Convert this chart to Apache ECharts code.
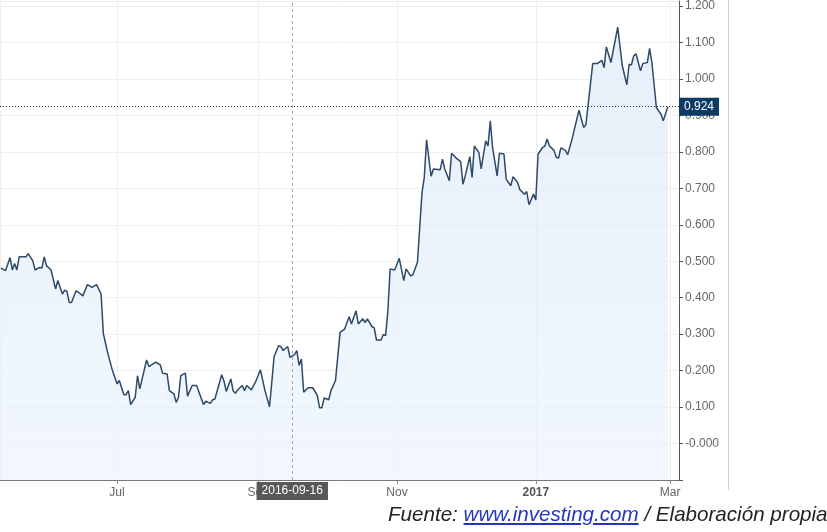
<!DOCTYPE html>
<html>
<head>
<meta charset="utf-8">
<script src="https://cdn.jsdelivr.net/npm/echarts@6/dist/echarts.min.js"></script>
<style>
  html, body { margin: 0; padding: 0; background: #fff; }
  #chart { width: 827px; height: 532px; position: absolute; left: 0; top: 0; }
  #src { position: absolute; left: 388px; top: 502px; font-family: "Liberation Sans", Arial, sans-serif;
         font-style: italic; font-size: 20.6px; color: #222; white-space: nowrap; }
  #src a { color: #2236c0; text-decoration: underline; }
</style>
</head>
<body>
<div id="chart"></div>
<div id="src">Fuente: <a>www.investing.com</a> / Elaboración propia</div>
<script>
const dates = [
  '2016-05-11','2016-05-13','2016-05-15','2016-05-16','2016-05-17','2016-05-18','2016-05-19','2016-05-22','2016-05-23','2016-05-25',
  '2016-05-26','2016-05-28','2016-05-29','2016-05-30','2016-05-31','2016-06-02','2016-06-04','2016-06-05','2016-06-07','2016-06-08',
  '2016-06-09','2016-06-10','2016-06-11','2016-06-13','2016-06-14','2016-06-16','2016-06-18','2016-06-20','2016-06-22','2016-06-24',
  '2016-06-25','2016-06-27','2016-06-29','2016-07-01','2016-07-02','2016-07-04','2016-07-05','2016-07-06','2016-07-07','2016-07-09',
  '2016-07-10','2016-07-11','2016-07-14','2016-07-15','2016-07-18','2016-07-20','2016-07-21','2016-07-23','2016-07-24','2016-07-26',
  '2016-07-27','2016-07-28','2016-07-29','2016-07-31','2016-08-01','2016-08-03','2016-08-05','2016-08-06','2016-08-08','2016-08-09',
  '2016-08-10','2016-08-11','2016-08-12','2016-08-13','2016-08-16','2016-08-17','2016-08-18','2016-08-20','2016-08-21','2016-08-22',
  '2016-08-23','2016-08-25','2016-08-26','2016-08-27','2016-08-29','2016-08-31','2016-09-02','2016-09-04','2016-09-06','2016-09-07',
  '2016-09-08','2016-09-10','2016-09-11','2016-09-12','2016-09-14','2016-09-15','2016-09-17','2016-09-18','2016-09-19','2016-09-20',
  '2016-09-21','2016-09-23','2016-09-25','2016-09-27','2016-09-28','2016-09-29','2016-09-30','2016-10-02','2016-10-03','2016-10-05',
  '2016-10-07','2016-10-09','2016-10-11','2016-10-12','2016-10-14','2016-10-15','2016-10-17','2016-10-18','2016-10-19','2016-10-21',
  '2016-10-22','2016-10-23','2016-10-25','2016-10-26','2016-10-27','2016-10-28','2016-10-29','2016-10-31','2016-11-02','2016-11-04',
  '2016-11-05','2016-11-07','2016-11-08','2016-11-10','2016-11-12','2016-11-13','2016-11-14','2016-11-16','2016-11-17','2016-11-20',
  '2016-11-21','2016-11-22','2016-11-24','2016-11-25','2016-11-27','2016-11-29','2016-11-30','2016-12-01','2016-12-03','2016-12-04',
  '2016-12-05','2016-12-07','2016-12-08','2016-12-10','2016-12-11','2016-12-12','2016-12-13','2016-12-15','2016-12-16','2016-12-18',
  '2016-12-19','2016-12-20','2016-12-21','2016-12-22','2016-12-24','2016-12-25','2016-12-27','2016-12-28','2016-12-29','2016-12-31',
  '2017-01-01','2017-01-02','2017-01-04','2017-01-05','2017-01-06','2017-01-07','2017-01-09','2017-01-10','2017-01-11','2017-01-12',
  '2017-01-14','2017-01-15','2017-01-17','2017-01-19','2017-01-20','2017-01-22','2017-01-23','2017-01-26','2017-01-28','2017-01-30',
  '2017-01-31','2017-02-01','2017-02-03','2017-02-06','2017-02-08','2017-02-10','2017-02-11','2017-02-12','2017-02-13','2017-02-14',
  '2017-02-16','2017-02-17','2017-02-19','2017-02-20','2017-02-21','2017-02-23','2017-02-25','2017-02-26','2017-02-28'
];
const values = [
  0.481,0.474,0.510,0.476,0.494,0.476,0.512,0.512,0.521,0.501,
  0.476,0.483,0.481,0.512,0.488,0.476,0.424,0.447,0.410,0.421,
  0.417,0.387,0.387,0.419,0.415,0.405,0.436,0.428,0.436,0.410,
  0.301,0.246,0.200,0.164,0.173,0.134,0.134,0.145,0.107,0.127,
  0.186,0.150,0.229,0.211,0.223,0.216,0.193,0.191,0.145,0.136,
  0.113,0.127,0.186,0.193,0.130,0.159,0.159,0.141,0.107,0.116,
  0.113,0.110,0.120,0.122,0.189,0.171,0.143,0.177,0.145,0.138,
  0.147,0.159,0.145,0.159,0.147,0.171,0.202,0.145,0.101,0.168,
  0.238,0.268,0.266,0.255,0.266,0.236,0.244,0.255,0.214,0.232,
  0.141,0.153,0.153,0.132,0.098,0.098,0.125,0.120,0.145,0.173,
  0.305,0.314,0.348,0.328,0.364,0.328,0.342,0.332,0.342,0.321,
  0.317,0.284,0.284,0.299,0.296,0.364,0.479,0.476,0.508,0.447,
  0.479,0.460,0.463,0.497,0.688,0.730,0.833,0.733,0.753,0.751,
  0.780,0.753,0.721,0.796,0.783,0.773,0.711,0.734,0.787,0.730,
  0.816,0.798,0.753,0.830,0.816,0.885,0.812,0.734,0.796,0.794,
  0.725,0.716,0.707,0.732,0.716,0.696,0.684,0.691,0.655,0.684,
  0.668,0.794,0.812,0.816,0.835,0.816,0.804,0.785,0.783,0.811,
  0.804,0.792,0.837,0.889,0.914,0.867,0.874,1.042,1.042,1.051,
  1.031,1.088,1.045,1.142,1.036,0.984,1.040,1.038,1.063,1.069,
  1.022,1.042,1.045,1.084,1.045,0.921,0.903,0.885,0.924
];
const yTicks = { min: -0.1, max: 1.2137, interval: 0.1 };
const xRange = { min: '2016-05-10 14:00', max: '2017-03-04 22:00' };
const crosshairDate = '2016-09-16';
const lastValue = 0.924;

const seriesData = dates.map((d, i) => [d, values[i]]);

const chart = echarts.init(document.getElementById('chart'), null, { renderer: 'canvas' });
const font = '"Liberation Sans", Arial, sans-serif';

chart.setOption({
  animation: false,
  grid: { left: 0, right: 148, top: 0, bottom: 52, containLabel: false },
  xAxis: {
    type: 'time',
    min: xRange.min,
    max: xRange.max,
    splitNumber: 4,
    axisLine: { show: true, onZero: false, lineStyle: { color: '#777', width: 1 } },
    axisTick: { show: true, length: 4, lineStyle: { color: '#888' } },
    minorTick: { show: false },
    axisLabel: {
      color: '#666', fontFamily: font, fontSize: 12, margin: 7,
      formatter: { year: '{bold|{yyyy}}', month: '{MMM}', day: '' },
      rich: { bold: { fontWeight: 'bold', color: '#555', fontFamily: font, fontSize: 12 } }
    },
    splitLine: { show: true, lineStyle: { color: '#efefef', width: 1 } },
    axisPointer: {
      show: true,
      value: crosshairDate,
      status: 'show',
      triggerTooltip: false,
      type: 'line',
      lineStyle: { color: '#aaa', type: [3, 3], width: 1 },
      label: {
        show: true,
        backgroundColor: '#585858',
        color: '#fff',
        fontFamily: font,
        fontSize: 12,
        padding: [3, 5, 3, 5],
        margin: 2,
        borderRadius: 0,
        formatter: function (p) { return echarts.time.format(p.value, '{yyyy}-{MM}-{dd}', false); }
      }
    }
  },
  yAxis: {
    type: 'value',
    position: 'right',
    min: yTicks.min,
    max: yTicks.max,
    interval: yTicks.interval,
    axisLine: { show: true, lineStyle: { color: '#555', width: 1 } },
    axisTick: { show: true, length: 4, lineStyle: { color: '#555' } },
    axisLabel: {
      color: '#666', fontFamily: font, fontSize: 12, margin: 6,
      showMaxLabel: false,
      formatter: function (v) {
        if (v < -0.05) return '';
        if (Math.abs(v) < 1e-9) return '-0.000';
        return v.toFixed(3);
      }
    },
    splitLine: { show: true, lineStyle: { color: '#efefef', width: 1 } },
    axisPointer: {
      show: true,
      value: lastValue,
      status: 'show',
      triggerTooltip: false,
      type: 'line',
      lineStyle: { color: '#1d3a5c', type: [1, 2], width: 1 },
      label: {
        show: true,
        backgroundColor: '#0f3a64',
        color: '#fff',
        fontFamily: font,
        fontSize: 12,
        padding: [3, 5, 3, 5],
        margin: 0,
        borderRadius: 0,
        formatter: function (p) { return Number(p.value).toFixed(3); }
      }
    }
  },
  series: [{
    type: 'line',
    data: seriesData,
    showSymbol: false,
    symbol: 'none',
    smooth: false,
    lineStyle: { color: '#2e4a68', width: 1.5 },
    areaStyle: {
      origin: 'start',
      color: new echarts.graphic.LinearGradient(0, 0, 0, 1, [
        { offset: 0, color: '#dce8f7' },
        { offset: 1, color: '#ebf3fc' }
      ])
    },
    silent: true
  }],
  graphic: [{
    type: 'line',
    shape: { x1: 728.5, y1: 0, x2: 728.5, y2: 490 },
    style: { stroke: '#cfcfcf', lineWidth: 1 },
    silent: true
  }]
});
</script>
</body>
</html>
